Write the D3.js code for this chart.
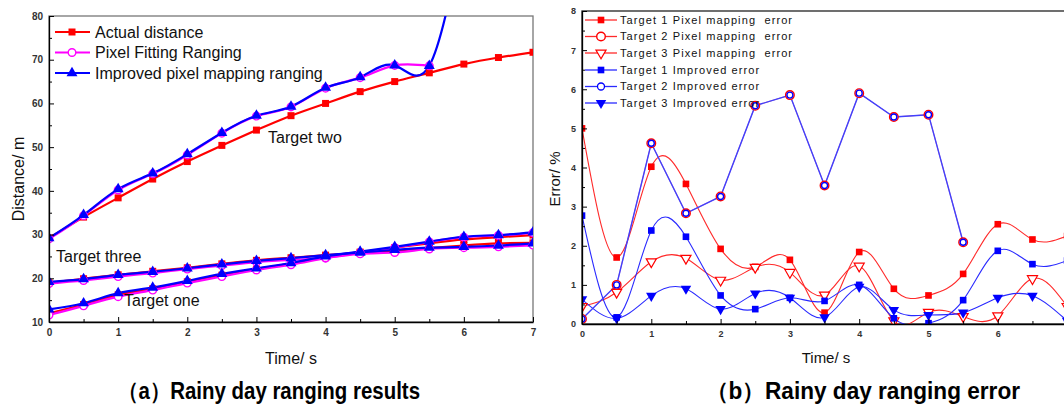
<!DOCTYPE html>
<html><head><meta charset="utf-8">
<script src="https://cdn.jsdelivr.net/npm/d3@7"></script>
<style>
body{margin:0;background:#fff}
svg{display:block}
text{font-family:"Liberation Sans",Arial,sans-serif}
</style>
</head><body>
<svg id="c" width="1064" height="411"></svg>
<script>
// ---------- shared categories ----------
const times = [0,0.5,1,1.5,2,2.5,3,3.5,4,4.5,5,5.5,6,6.5,7];
const xMajorTicks = [0,1,2,3,4,5,6,7];
const xMinorTicks = [0.5,1.5,2.5,3.5,4.5,5.5,6.5];

// ---------- (a) ranging results ----------
const leftYTicks = [10,20,30,40,50,60,70,80];
const leftYMinor = [15,25,35,45,55,65,75];
const actualTwo   = [29.2,34.0,38.4,42.7,46.7,50.4,53.9,57.2,60.0,62.7,65.0,67.0,69.0,70.5,71.7];
const fittingTwo  = [29.0,34.3,40.2,43.9,48.2,53.2,57.1,59.2,63.5,65.9,68.7,68.6];
const improvedTwo = [29.2,34.5,40.4,44.0,48.4,53.3,57.2,59.3,63.6,66.0,68.7,68.6,100];
const actualOne   = [12.0,14.0,16.2,17.6,19.2,20.7,22.1,23.4,24.9,26.0,27.0,28.0,28.9,29.4,29.9];
const fittingOne  = [11.6,13.7,15.8,17.3,18.9,20.4,21.9,23.1,24.6,25.8,27.0,28.3,29.4,29.8,30.4];
const improvedOne = [12.9,14.3,16.6,17.9,19.4,21.0,22.3,23.5,25.0,26.1,27.2,28.4,29.5,29.9,30.5];
const actualThree   = [19.0,19.9,20.8,21.6,22.4,23.3,24.1,24.7,25.3,25.8,26.3,26.9,27.5,28.0,28.1];
const fittingThree  = [18.8,19.5,20.4,21.2,22.1,22.9,23.7,24.2,24.7,25.6,25.9,26.7,27.0,27.2,27.6];
const improvedThree = [19.2,19.8,20.8,21.5,22.3,23.2,24.0,24.6,25.3,25.9,26.5,27.0,27.2,27.5,28.0];
const leftLegend = ["Actual distance","Pixel Fitting Ranging","Improved pixel mapping ranging"];
const targetLabels = ["Target two","Target three","Target one"];

// ---------- (b) ranging error ----------
const rightYTicks = [0,1,2,3,4,5,6,7,8];
const rightYMinor = [0.5,1.5,2.5,3.5,4.5,5.5,6.5,7.5];
const rightXLabels = [0,1,2,3,4,5,6];
const t1Pixel    = [5.0,1.70,4.02,3.58,1.92,1.46,1.64,0.29,1.84,0.90,0.73,1.28,2.55,2.16,2.25];
const t2Pixel    = [0.13,1.0,4.62,2.83,3.26,5.58,5.85,3.54,5.90,5.29,5.35,2.09];
const t3Pixel    = [0.45,0.81,1.59,1.68,1.12,1.45,1.32,0.74,1.48,0.08,0.30,0.19,0.21,1.16,0.45];
const t1Improved = [2.77,0.17,2.39,2.23,0.73,0.38,0.67,0.59,1.00,0.145,0.02,0.61,1.87,1.53,1.62];
const t2Improved = [0.13,1.0,4.62,2.83,3.26,5.58,5.85,3.54,5.90,5.29,5.35,2.09];
const t3Improved = [0.63,0.145,0.72,0.90,0.38,0.78,0.67,0.17,0.95,0.36,0.23,0.29,0.67,0.72,0.08];
const rightLegend = ["Target 1 Pixel mapping  error","Target 2 Pixel mapping  error","Target 3 Pixel mapping  error",
                     "Target 1 Improved error","Target 2 Improved error","Target 3 Improved error"];
const captions = ["（a）Rainy day ranging results","（b）Rainy day ranging error"];

const svg = d3.select("#c");
const pairs = (vals) => vals.map((v,i)=>[times[i], v]);

function axes(g, x, y, yTicks, yMinor, xTickVals, xLabelFmt, ySize){
  const [x0,x1] = x.range(); const [yb,yt] = y.range();
  g.append("g").attr("transform",`translate(0,${yb})`)
    .call(d3.axisBottom(x).tickValues(xTickVals).tickSize(-5).tickSizeOuter(0).tickPadding(7).tickFormat(xLabelFmt));
  g.append("g").attr("transform",`translate(0,${yb})`)
    .call(d3.axisBottom(x).tickValues(xMinorTicks).tickSize(-3).tickSizeOuter(0).tickFormat(""))
    .select(".domain").remove();
  g.append("g").attr("transform",`translate(${x0},0)`)
    .call(d3.axisLeft(y).tickValues(yTicks).tickSize(-5).tickSizeOuter(0).tickPadding(6));
  g.append("g").attr("transform",`translate(${x0},0)`)
    .call(d3.axisLeft(y).tickValues(yMinor).tickSize(-3).tickSizeOuter(0).tickFormat(""))
    .select(".domain").remove();
  g.selectAll(".tick line").attr("stroke","#000");
  g.selectAll(".domain").attr("stroke","#000").attr("stroke-width",1.3);
  g.selectAll(".tick text").attr("font-size",ySize).attr("fill","#333")
    .attr("font-family","Liberation Sans, Arial, sans-serif").attr("font-weight","bold");
}

// ===================== LEFT CHART =====================
const xL = d3.scaleLinear().domain([0,7]).range([49,533]);
const yL = d3.scaleLinear().domain([10,80]).range([322,16]);
const gL = svg.append("g");
gL.append("rect").attr("x",49).attr("y",16).attr("width",533-49).attr("height",322-16)
  .attr("fill","none").attr("stroke","#777").attr("stroke-width",1.3);
svg.append("clipPath").attr("id","clipL").append("rect")
  .attr("x",49).attr("y",16).attr("width",533-49).attr("height",322-16);

const lineL = d3.line().x(d=>xL(d[0])).y(d=>yL(d[1])).curve(d3.curveNatural);
const plotL = gL.append("g").attr("clip-path","url(#clipL)");

const leftSeries = [
  {vals:actualTwo,  c:"#ff0000", m:"sq"},
  {vals:actualOne,  c:"#ff0000", m:"sq"},
  {vals:actualThree,c:"#ff0000", m:"sq"},
  {vals:fittingTwo, c:"#ff00ff", m:"ci"},
  {vals:fittingOne, c:"#ff00ff", m:"ci"},
  {vals:fittingThree,c:"#ff00ff", m:"ci"},
  {vals:improvedTwo,c:"#0000ff", m:"tr"},
  {vals:improvedOne,c:"#0000ff", m:"tr"},
  {vals:improvedThree,c:"#0000ff", m:"tr"}
];
function drawMarkerL(sel, m, c){
  if(m==="sq") sel.append("path").attr("d",d3.symbol().type(d3.symbolSquare).size(49)()).attr("fill",c);
  else if(m==="ci") sel.append("circle").attr("r",3.8).attr("fill","#fff").attr("stroke",c).attr("stroke-width",1.4);
  else sel.append("path").attr("d",d3.symbol().type(d3.symbolTriangle).size(52)()).attr("fill",c);
}
leftSeries.forEach(s=>{
  plotL.append("path").datum(pairs(s.vals)).attr("d",lineL)
    .attr("fill","none").attr("stroke",s.c).attr("stroke-width",2.2);
});
leftSeries.forEach(s=>{
  pairs(s.vals).forEach(p=>{
    const g = plotL.append("g").attr("transform",`translate(${xL(p[0])},${yL(p[1])})`);
    drawMarkerL(g, s.m, s.c);
  });
});
axes(gL, xL, yL, leftYTicks, leftYMinor, xMajorTicks, d3.format("d"), 10);

const legColorsL = [["#ff0000","sq"],["#ff00ff","ci"],["#0000ff","tr"]];
leftLegend.forEach((t,i)=>{
  const yy = [32,52.5,73][i];
  gL.append("line").attr("x1",55).attr("x2",90).attr("y1",yy).attr("y2",yy)
    .attr("stroke",legColorsL[i][0]).attr("stroke-width",2.2);
  drawMarkerL(gL.append("g").attr("transform",`translate(72,${yy})`), legColorsL[i][1], legColorsL[i][0]);
  gL.append("text").attr("x",95).attr("y",yy).attr("dy","0.36em").attr("font-size",16).attr("fill","#111").text(t);
});
[[268,137],[56,256],[124,300]].forEach((p,i)=>{
  gL.append("text").attr("x",p[0]).attr("y",p[1]).attr("dy","0.36em").attr("font-size",16).attr("fill","#111").text(targetLabels[i]);
});
gL.append("text").attr("transform","translate(24,179) rotate(-90)").attr("text-anchor","middle")
  .attr("font-size",16).attr("fill","#111").text("Distance/ m");
gL.append("text").attr("x",291).attr("y",358).attr("text-anchor","middle").attr("dy","0.36em")
  .attr("font-size",16).attr("fill","#111").text("Time/ s");

// ===================== RIGHT CHART =====================
const xR = d3.scaleLinear().domain([0,7]).range([582,582+7*69.3]);
const yR = d3.scaleLinear().domain([0,8]).range([324,11]);
const gR = svg.append("g");
gR.append("rect").attr("x",582).attr("y",11).attr("width",7*69.3).attr("height",313)
  .attr("fill","none").attr("stroke","#222").attr("stroke-width",1.3);
svg.append("clipPath").attr("id","clipR").append("rect")
  .attr("x",582).attr("y",11).attr("width",7*69.3).attr("height",313);
const plotR = gR.append("g").attr("clip-path","url(#clipR)");
const lineRc = d3.line().x(d=>xR(d[0])).y(d=>yR(d[1])).curve(d3.curveNatural);
const lineRs = d3.line().x(d=>xR(d[0])).y(d=>yR(d[1]));

const RED="#ff2a2a", BLUE="#2a2aff";
function drawMarkerR(sel, m){
  if(m==="rsq") sel.append("path").attr("d",d3.symbol().type(d3.symbolSquare).size(44)()).attr("fill","#ff0000");
  else if(m==="bsq") sel.append("path").attr("d",d3.symbol().type(d3.symbolSquare).size(44)()).attr("fill","#0000ff");
  else if(m==="rci") sel.append("circle").attr("r",4.3).attr("fill","#fff").attr("stroke","#ff0000").attr("stroke-width",1.4);
  else if(m==="bci") sel.append("circle").attr("r",3.0).attr("fill","#fff").attr("stroke","#0000ff").attr("stroke-width",1.4);
  else if(m==="rtd") sel.append("path").attr("d",d3.symbol().type(d3.symbolTriangle).size(44)()).attr("transform","rotate(180)")
      .attr("fill","#fff").attr("stroke","#ff0000").attr("stroke-width",1.2);
  else if(m==="btd") sel.append("path").attr("d",d3.symbol().type(d3.symbolTriangle).size(48)()).attr("transform","rotate(180)")
      .attr("fill","#0000ff");
}
const rightSeries = [
  {vals:t1Pixel,    c:RED,  m:"rsq", curve:true,  w:1.1},
  {vals:t3Pixel,    c:RED,  m:"rtd", curve:true,  w:1.1},
  {vals:t1Improved, c:BLUE, m:"bsq", curve:true,  w:1.1},
  {vals:t3Improved, c:BLUE, m:"btd", curve:true,  w:1.1},
  {vals:t2Pixel,    c:RED,  m:"rci", curve:false, w:0.6},
  {vals:t2Improved, c:"#4040ff", m:"bci", curve:false, w:1.4}
];
rightSeries.forEach(s=>{
  plotR.append("path").datum(pairs(s.vals)).attr("d", s.curve?lineRc:lineRs)
    .attr("fill","none").attr("stroke",s.c).attr("stroke-width",s.w);
});
rightSeries.forEach(s=>{
  pairs(s.vals).forEach(p=>{
    drawMarkerR(plotR.append("g").attr("transform",`translate(${xR(p[0])},${yR(p[1])})`), s.m);
  });
});
axes(gR, xR, yR, rightYTicks, rightYMinor, rightXLabels, d3.format("d"), 9);

const legR = [[RED,"rsq"],[RED,"rci"],[RED,"rtd"],[BLUE,"bsq"],[BLUE,"bci"],[BLUE,"btd"]];
const legRY = [20,36.5,53,70,86.5,103];
rightLegend.forEach((t,i)=>{
  const yy = legRY[i];
  gR.append("line").attr("x1",585).attr("x2",617).attr("y1",yy).attr("y2",yy)
    .attr("stroke",legR[i][0]).attr("stroke-width",1.3);
  const g = gR.append("g").attr("transform",`translate(601,${yy})`);
  if(legR[i][1]==="bci") g.append("circle").attr("r",3.5).attr("fill","#fff").attr("stroke","#0000ff").attr("stroke-width",1.3);
  else drawMarkerR(g, legR[i][1]);
  gR.append("text").attr("x",620).attr("y",yy).attr("dy","0.36em").attr("font-size",11)
    .attr("letter-spacing","1.1px").attr("fill","#111").style("white-space","pre").text(t);
});
gR.append("text").attr("transform","translate(560,179) rotate(-90)").attr("text-anchor","middle")
  .attr("font-size",15).attr("fill","#111").text("Error/ %");
gR.append("text").attr("x",826).attr("y",358).attr("text-anchor","middle").attr("dy","0.36em")
  .attr("font-size",15).attr("fill","#111").text("Time/ s");

// ===================== CAPTIONS =====================
[[118,302],[706,314]].forEach((p,i)=>{
  svg.append("text").attr("x",p[0]).attr("y",391).attr("dy","0.36em")
    .attr("textLength",p[1]).attr("lengthAdjust","spacingAndGlyphs")
    .attr("font-family","'Liberation Sans Narrow','Arial Narrow','Noto Sans CJK SC',sans-serif")
    .attr("font-weight","bold").attr("font-size",23).attr("fill","#000").text(captions[i]);
});
</script>
</body></html>
